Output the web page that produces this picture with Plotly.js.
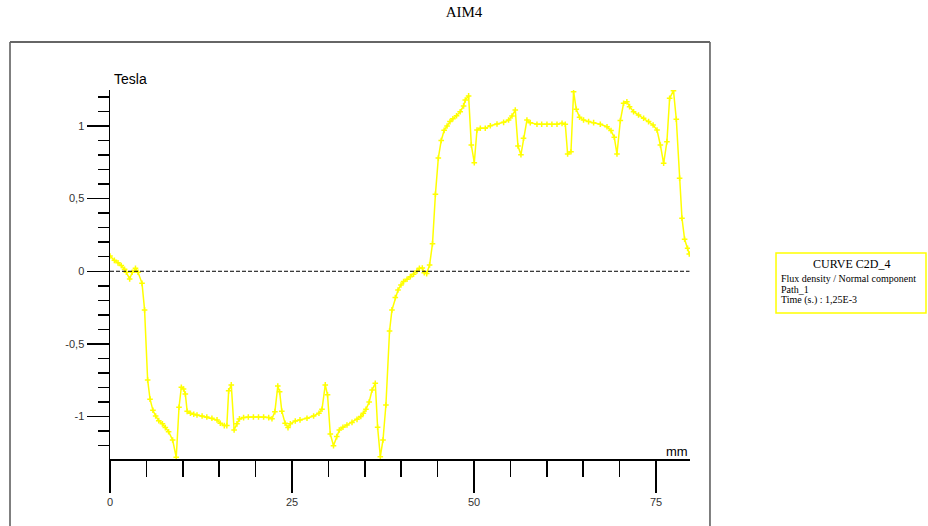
<!DOCTYPE html>
<html>
<head>
<meta charset="utf-8">
<script src="https://cdn.plot.ly/plotly-3.0.1.min.js"></script>
<style>html,body{margin:0;padding:0;background:#fff;}#chart{width:928px;height:526px;}</style>
</head>
<body>
<div id="chart"></div>
<script>
// Position along path (mm)
const positionMm = [
  0, 0.6, 1.1, 1.55, 2.0, 2.25, 2.7, 3.05, 3.5, 3.85, 4.4, 4.75, 5.17, 5.5, 5.9, 6.27, 6.7, 7.2, 7.6, 8.05,
  8.6, 9.1, 9.48, 9.8, 10.1, 10.35, 10.6, 11.05, 11.5, 11.95, 12.65, 13.3, 14.0, 14.7, 15.15, 15.7, 16.05, 16.3, 16.66, 17.05,
  17.44, 17.78, 18.35, 19.0, 19.7, 20.4, 21.1, 21.8, 22.25, 22.65, 23.05, 23.3, 23.6, 24.05, 24.45, 24.77, 25.45, 26.1, 27.06, 27.97,
  28.7, 29.12, 29.57, 29.88, 30.26, 30.7, 31.15, 31.5, 32.0, 32.55, 33.24, 33.93, 34.45, 34.8, 35.16, 35.6, 36.0, 36.44, 36.76, 37.13,
  37.5, 37.9, 38.4, 38.73, 39.19, 39.56, 39.97, 40.33, 40.8, 41.25, 41.7, 42.16, 42.5, 42.9, 43.17, 43.5, 43.9, 44.3, 44.7, 45.1,
  45.5, 45.9, 46.3, 46.7, 47.1, 47.6, 48.1, 48.57, 48.8, 49.26, 49.63, 50.04, 50.41, 50.87, 51.55, 52.24, 53.16, 54.07, 54.75, 55.22,
  55.67, 56.04, 56.45, 56.8, 57.27, 57.73, 58.65, 59.3, 60.02, 60.7, 61.4, 62.09, 62.54, 62.86, 63.32, 63.68, 64.05, 64.5, 65.05, 65.74,
  66.43, 67.35, 68.27, 68.82, 69.27, 69.64, 70.1, 70.55, 71.0, 71.37, 71.92, 72.6, 73.3, 73.98, 74.6, 75.14, 75.6, 76.05, 76.5, 76.87,
  77.4, 77.79, 78.24, 78.57, 78.93, 79.34, 79.57
];
// Flux density, normal component (Tesla)
const fluxTesla = [
  0.105, 0.075, 0.058, 0.04, 0.014, -0.007, -0.053, -0.007, 0.02, -0.007, -0.083, -0.266, -0.748, -0.88, -0.957, -0.996, -1.028, -1.05, -1.076, -1.104,
  -1.161, -1.28, -0.936, -0.798, -0.81, -0.845, -0.964, -0.977, -0.984, -0.989, -0.996, -1.003, -1.012, -1.023, -1.046, -1.062, -1.062, -0.823, -0.782, -1.092,
  -1.05, -1.016, -1.007, -1.003, -1.003, -1.003, -1.003, -1.007, -1.015, -0.966, -0.79, -0.829, -0.963, -1.046, -1.076, -1.05, -1.03, -1.023, -1.012, -0.996,
  -0.977, -0.95, -0.782, -0.85, -1.12, -1.2, -1.138, -1.092, -1.074, -1.058, -1.04, -1.019, -1.0, -0.977, -0.95, -0.9, -0.817, -0.771, -1.074, -1.276,
  -1.161, -0.92, -0.411, -0.266, -0.18, -0.129, -0.094, -0.071, -0.055, -0.037, -0.021, 0.002, 0.02, 0.023, -0.01, -0.016, 0.043, 0.19, 0.53, 0.78,
  0.9, 0.97, 1.0, 1.03, 1.05, 1.07, 1.098, 1.138, 1.179, 1.207, 0.869, 0.747, 0.972, 0.984, 0.984, 1.002, 1.014, 1.025, 1.041, 1.069,
  1.11, 0.862, 0.802, 0.915, 1.041, 1.023, 1.012, 1.012, 1.012, 1.012, 1.012, 1.018, 1.012, 0.807, 0.823, 1.236, 1.115, 1.06, 1.041, 1.03,
  1.023, 1.012, 0.995, 0.968, 0.922, 0.807, 1.037, 1.156, 1.167, 1.133, 1.098, 1.076, 1.053, 1.03, 1.007, 0.972, 0.869, 0.743, 0.892, 1.19,
  1.243, 1.046, 0.64, 0.365, 0.22, 0.158, 0.119
];
const xTickVals = [0, 25, 50, 75];
const xTickText = ['0', '25', '50', '75'];
const yTickVals = [-1, -0.5, 0, 0.5, 1];
const yTickText = ['-1', '-0,5', '0', '0,5', '1'];
const chartTitle = 'AIM4';
const yLabel = 'Tesla';
const xLabel = 'mm';
const legendLines = ['CURVE C2D_4', 'Flux density / Normal component', 'Path_1', 'Time (s.) : 1,25E-3'];

const trace = {
  x: positionMm, y: fluxTesla, type: 'scatter', mode: 'lines+markers',
  line: {color: '#ffff00', width: 1.5},
  marker: {symbol: 'cross-thin', size: 4, color: '#ffff00', line: {color: '#ffff00', width: 1.5}},
  hoverinfo: 'none'
};

const sans = 'Liberation Sans, Arial, sans-serif';
const serif = 'Liberation Serif, Times New Roman, serif';

const layout = {
  width: 928, height: 526, autosize: false,
  margin: {l: 110, r: 238, t: 90, b: 67, pad: 0},
  paper_bgcolor: '#ffffff', plot_bgcolor: 'rgba(0,0,0,0)',
  showlegend: false,
  title: {text: chartTitle, x: 0.5, xref: 'container', xanchor: 'center', y: 1 - 12/526, yref: 'container', yanchor: 'middle',
          font: {family: serif, size: 15, color: '#000'}},
  xaxis: {
    range: [0, 580/7.28], showgrid: false, zeroline: false,
    showline: true, linecolor: '#000', linewidth: 1.5,
    tickmode: 'array', tickvals: xTickVals, ticktext: xTickText,
    ticks: 'outside', ticklen: 32, tickwidth: 1.5, tickcolor: '#000',
    tickfont: {family: sans, size: 11, color: '#333'},
    minor: {tickmode: 'linear', tick0: 0, dtick: 5, ticks: 'outside', ticklen: 16, tickwidth: 1.5, tickcolor: '#000', showgrid: false},
    fixedrange: true
  },
  yaxis: {
    range: [-1.292, -1.292 + 369/145.3], showgrid: false, zeroline: false,
    showline: true, linecolor: '#000', linewidth: 1.5,
    tickmode: 'array', tickvals: yTickVals, ticktext: yTickText,
    ticks: 'outside', ticklen: 22, tickwidth: 1.5, tickcolor: '#000',
    tickfont: {family: sans, size: 11, color: '#333'},
    minor: {tickmode: 'linear', tick0: 0, dtick: 0.1, ticks: 'outside', ticklen: 11, tickwidth: 1.5, tickcolor: '#000', showgrid: false},
    fixedrange: true
  },
  shapes: [
    // zero reference line
    {type: 'line', xref: 'x', yref: 'y', x0: 0, x1: 79.6, y0: 0, y1: 0, line: {color: '#000', width: 1, dash: '4px,2px'}},
    // outer frame
    {type: 'rect', xref: 'paper', yref: 'paper', x0: -0.17241, x1: 1.03448, y0: -0.2, y1: 1.1301, line: {color: '#000', width: 1}},
    {type: 'line', xref: 'paper', yref: 'paper', x0: -0.17241, x1: 1.03448, y0: 1.1301, y1: 1.1301, line: {color: '#666', width: 2}},
    // legend box
    {type: 'rect', xref: 'paper', yref: 'paper', x0: 1.1483, x1: 1.4069, y0: 0.3957, y1: 0.5583, line: {color: '#ffff00', width: 1.5}}
  ],
  annotations: [
    {xref: 'paper', yref: 'paper', x: 0.00345, y: 1.0298, xanchor: 'left', yanchor: 'middle', showarrow: false,
     text: yLabel, font: {family: sans, size: 14, color: '#000'}},
    {xref: 'paper', yref: 'paper', x: 1.0, y: 0.019, xanchor: 'right', yanchor: 'middle', showarrow: false,
     text: xLabel, font: {family: sans, size: 13, color: '#000'}},
    {xref: 'paper', yref: 'paper', x: 1.2776, y: 0.5285, xanchor: 'center', yanchor: 'middle', showarrow: false,
     text: legendLines[0], font: {family: serif, size: 12, color: '#000'}},
    {xref: 'paper', yref: 'paper', x: 1.1534, y: 0.4905, xanchor: 'left', yanchor: 'middle', showarrow: false,
     text: legendLines[1], font: {family: serif, size: 10, color: '#000'}},
    {xref: 'paper', yref: 'paper', x: 1.1534, y: 0.4607, xanchor: 'left', yanchor: 'middle', showarrow: false,
     text: legendLines[2], font: {family: serif, size: 10, color: '#000'}},
    {xref: 'paper', yref: 'paper', x: 1.1534, y: 0.4309, xanchor: 'left', yanchor: 'middle', showarrow: false,
     text: legendLines[3], font: {family: serif, size: 10, color: '#000'}}
  ]
};

Plotly.newPlot('chart', [trace], layout, {displayModeBar: false, staticPlot: true});
</script>
</body>
</html>
